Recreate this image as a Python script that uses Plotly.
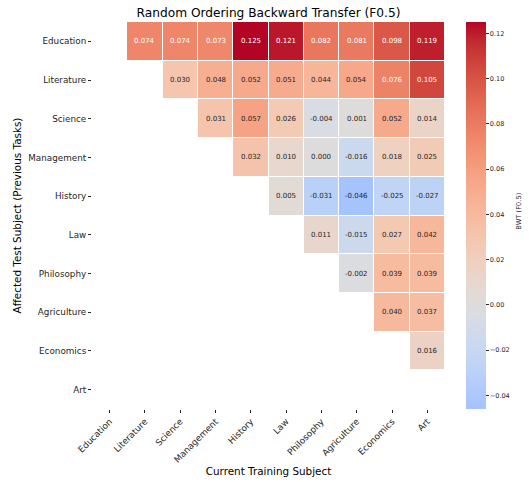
import plotly.graph_objects as go
import numpy as np

subjects = ["Education", "Literature", "Science", "Management", "History",
            "Law", "Philosophy", "Agriculture", "Economics", "Art"]

row_education = [0.074, 0.074, 0.073, 0.125, 0.121, 0.082, 0.081, 0.098, 0.119]
row_literature = [0.030, 0.048, 0.052, 0.051, 0.044, 0.054, 0.076, 0.105]
row_science = [0.031, 0.057, 0.026, -0.004, 0.001, 0.052, 0.014]
row_management = [0.032, 0.010, 0.000, -0.016, 0.018, 0.025]
row_history = [0.005, -0.031, -0.046, -0.025, -0.027]
row_law = [0.011, -0.015, 0.027, 0.042]
row_philosophy = [-0.002, 0.039, 0.039]
row_agriculture = [0.040, 0.037]
row_economics = [0.016]
row_art = []

rows = [row_education, row_literature, row_science, row_management, row_history,
        row_law, row_philosophy, row_agriculture, row_economics, row_art]

n = len(subjects)
z = np.full((n, n), np.nan)
for i, r in enumerate(rows):
    for k, v in enumerate(r):
        z[i, n - len(r) + k] = v

# matplotlib coolwarm table
cw = [(59,76,192),(68,90,204),(77,104,215),(87,117,225),(98,130,234),(108,142,241),
      (119,154,247),(130,165,251),(141,176,254),(152,185,255),(163,194,255),(174,201,253),
      (184,208,249),(194,213,244),(204,217,238),(213,219,230),(221,221,221),(229,216,209),
      (236,211,197),(241,204,184),(245,196,172),(247,187,160),(247,177,148),(247,166,137),
      (244,154,123),(241,141,111),(236,127,99),(229,112,88),(222,96,77),(213,80,66),
      (203,62,56),(192,40,47),(180,4,38)]
cw_t = np.linspace(0, 1, len(cw))
cw_arr = np.array(cw, dtype=float)

def cw_color(t):
    return np.array([np.interp(t, cw_t, cw_arr[:, c]) for c in range(3)])

zmin = np.nanmin(z)
zmax = np.nanmax(z)
vr = max(abs(zmin), abs(zmax))

def val_to_t(v):
    return 0.5 + v / (2 * vr)

colorscale = []
for s in np.linspace(0, 1, 41):
    v = zmin + s * (zmax - zmin)
    c = cw_color(val_to_t(v))
    colorscale.append([float(s), "rgb(%d,%d,%d)" % tuple(np.round(c).astype(int))])

def lum(c):
    c = c / 255.0
    c = np.where(c <= 0.03928, c / 12.92, ((c + 0.055) / 1.055) ** 2.4)
    return 0.2126 * c[0] + 0.7152 * c[1] + 0.0722 * c[2]

font = "DejaVu Sans"
fig = go.Figure()
fig.add_trace(go.Heatmap(
    z=z, x=subjects, y=subjects, colorscale=colorscale, zmin=zmin, zmax=zmax,
    xgap=1, ygap=1, hoverongaps=False,
    colorbar=dict(
        x=1.06, xanchor="left", y=0.5, yanchor="middle", len=1.0, lenmode="fraction",
        xpad=0, ypad=0,
        thickness=20, outlinewidth=0, ticks="outside", ticklen=3, tickwidth=1,
        tickcolor="#262626", tickvals=[-0.04, -0.02, 0, 0.02, 0.04, 0.06, 0.08, 0.10, 0.12],
        ticktext=["−0.04", "−0.02", "0.00", "0.02", "0.04", "0.06", "0.08", "0.10", "0.12"],
        tickfont=dict(size=6.5, family=font, color="#262626"),
    ),
))

annotations = []
for i in range(n):
    for j in range(n):
        v = z[i, j]
        if np.isnan(v):
            continue
        c = cw_color(val_to_t(v))
        col = "#262626" if lum(c) > 0.408 else "white"
        annotations.append(dict(x=subjects[j], y=subjects[i], text="%.3f" % v,
                                showarrow=False, font=dict(size=7, family=font, color=col)))

# colorbar label
annotations.append(dict(text="BWT (F0.5)", xref="paper", yref="paper", x=(519 - 92) / 353, y=0.51,
                        xanchor="center", yanchor="middle", textangle=-90, showarrow=False,
                        font=dict(size=6.7, family=font, color="#262626")))

fig.update_layout(
    width=531, height=482,
    margin=dict(l=92, r=86, t=22, b=73),
    paper_bgcolor="white", plot_bgcolor="white",
    font=dict(family=font, color="#262626"),
    title=dict(text="Random Ordering Backward Transfer (F0.5)", x=0.5, xref="paper",
               xanchor="center", yref="container", y=1 - 13 / 482, yanchor="middle",
               font=dict(size=12.2, family=font, color="black")),
    annotations=annotations,
    xaxis=dict(tickangle=-45, ticks="outside", ticklen=3, tickcolor="#262626", automargin=False,
               tickfont=dict(size=8.8, family=font, color="#262626"), showgrid=False, zeroline=False,
               title=dict(text="Current Training Subject", font=dict(size=10.4, family=font, color="black"),
                          standoff=4)),
    yaxis=dict(autorange="reversed", ticks="outside", ticklen=3, tickcolor="#262626", automargin=False,
               tickfont=dict(size=8.8, family=font, color="#262626"), showgrid=False, zeroline=False,
               title=dict(text="Affected Test Subject (Previous Tasks)",
                          font=dict(size=10.4, family=font, color="black"), standoff=4)),
)

fig.write_html("out.html", config={"displayModeBar": False},
               post_script="document.body.style.margin='0';document.body.style.overflow='hidden';")
